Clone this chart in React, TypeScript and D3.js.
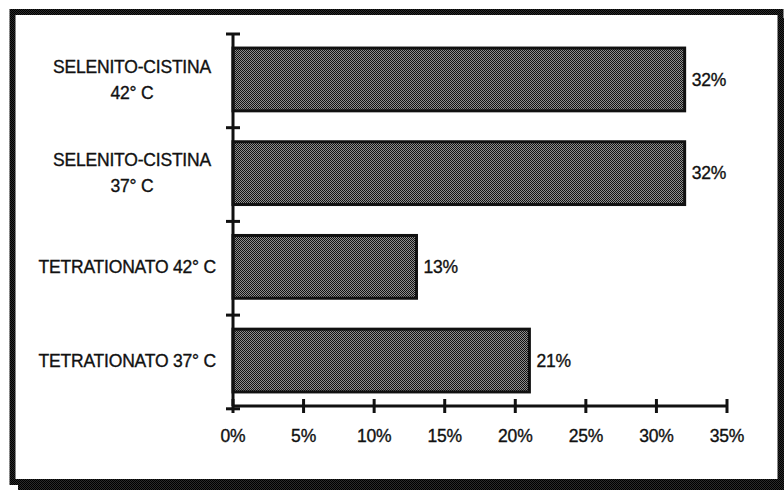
import React from "react";
import * as d3 from "d3";

const categories = [
  "SELENITO-CISTINA 42° C",
  "SELENITO-CISTINA 37° C",
  "TETRATIONATO 42° C",
  "TETRATIONATO 37° C",
];
const labelLines = [
  ["SELENITO-CISTINA", "42° C"],
  ["SELENITO-CISTINA", "37° C"],
  ["TETRATIONATO 42° C"],
  ["TETRATIONATO 37° C"],
];
const values = [32, 32, 13, 21];
const xTicks = [0, 5, 10, 15, 20, 25, 30, 35];

const W = 784;
const H = 490;
const FONT = "'Liberation Sans', Arial, Helvetica, sans-serif";
const INK = "#111";
const FS = 17.5;

const textStyle = {
  fontFamily: FONT,
  fontSize: FS,
  fill: INK,
  stroke: INK,
  strokeWidth: 0.35,
  letterSpacing: "-0.2px",
} as React.CSSProperties;

export default function App() {
  const x = d3.scaleLinear().domain([0, 35]).range([233, 727]);
  const y = d3
    .scaleBand<string>()
    .domain(categories)
    .range([34, 406])
    .paddingInner(0.33)
    .paddingOuter(0.15);
  const step = y.step();
  const [r0, r1] = y.range();
  const boundaries = d3.range(categories.length + 1).map((i) => r0 + i * step);
  const fmt = (v: number) => `${v}%`;

  return (
    <svg
      width={W}
      height={H}
      style={{ position: "absolute", left: 0, top: 0, background: "#fff" }}
    >
      <defs>
        <pattern id="stip" width="2" height="2" patternUnits="userSpaceOnUse">
          <rect x="0" y="0" width="2" height="2" fill="#8e8e8e" />
          <rect x="0" y="0" width="1" height="1" fill="#111" />
          <rect x="1" y="1" width="1" height="1" fill="#111" />
        </pattern>
        <pattern id="stipDark" width="2" height="2" patternUnits="userSpaceOnUse">
          <rect x="0" y="0" width="2" height="2" fill="#2a2a2a" />
          <rect x="0" y="0" width="1" height="1" fill="#000" />
          <rect x="1" y="1" width="1" height="1" fill="#000" />
        </pattern>
      </defs>

      {/* frame with drop shadow */}
      <rect x={18} y={18} width={780} height={472} fill="url(#stipDark)" />
      <rect
        x={12.5}
        y={12}
        width={768}
        height={470}
        fill="#fff"
        stroke="url(#stipDark)"
        strokeWidth={6}
      />

      {/* bars */}
      {categories.map((c, i) => (
        <rect
          key={c}
          x={x(0)}
          y={y(c)!}
          width={x(values[i]) - x(0)}
          height={y.bandwidth()}
          fill="url(#stip)"
          stroke={INK}
          strokeWidth={3}
        />
      ))}

      {/* y axis */}
      <line x1={x(0)} x2={x(0)} y1={r0} y2={r1} stroke={INK} strokeWidth={3} />
      {boundaries.map((b, i) => (
        <line
          key={i}
          x1={x(0) - 7}
          x2={x(0) + 7}
          y1={b}
          y2={b}
          stroke={INK}
          strokeWidth={3}
        />
      ))}

      {/* x axis */}
      <line x1={x(0)} x2={x(35)} y1={r1} y2={r1} stroke={INK} strokeWidth={3} />
      {xTicks.map((t) => (
        <g key={t}>
          <line
            x1={x(t)}
            x2={x(t)}
            y1={r1 - 7}
            y2={r1 + 7}
            stroke={INK}
            strokeWidth={3}
          />
          <text x={x(t)} y={436} dy="0.35em" textAnchor="middle" style={textStyle}>
            {fmt(t)}
          </text>
        </g>
      ))}

      {/* category labels */}
      {categories.map((c, i) => {
        const cy = y(c)! + y.bandwidth() / 2;
        const lines = labelLines[i];
        if (lines.length === 1) {
          return (
            <text key={c} x={216} y={cy} dy="0.35em" textAnchor="end" style={textStyle}>
              {lines[0]}
            </text>
          );
        }
        return (
          <text key={c} textAnchor="middle" style={textStyle}>
            {lines.map((l, j) => (
              <tspan key={j} x={132} y={cy - 13 + j * 26} dy="0.35em">
                {l}
              </tspan>
            ))}
          </text>
        );
      })}

      {/* value labels */}
      {categories.map((c, i) => (
        <text
          key={c}
          x={x(values[i]) + 7}
          y={y(c)! + y.bandwidth() / 2}
          dy="0.35em"
          textAnchor="start"
          style={textStyle}
        >
          {fmt(values[i])}
        </text>
      ))}
    </svg>
  );
}
